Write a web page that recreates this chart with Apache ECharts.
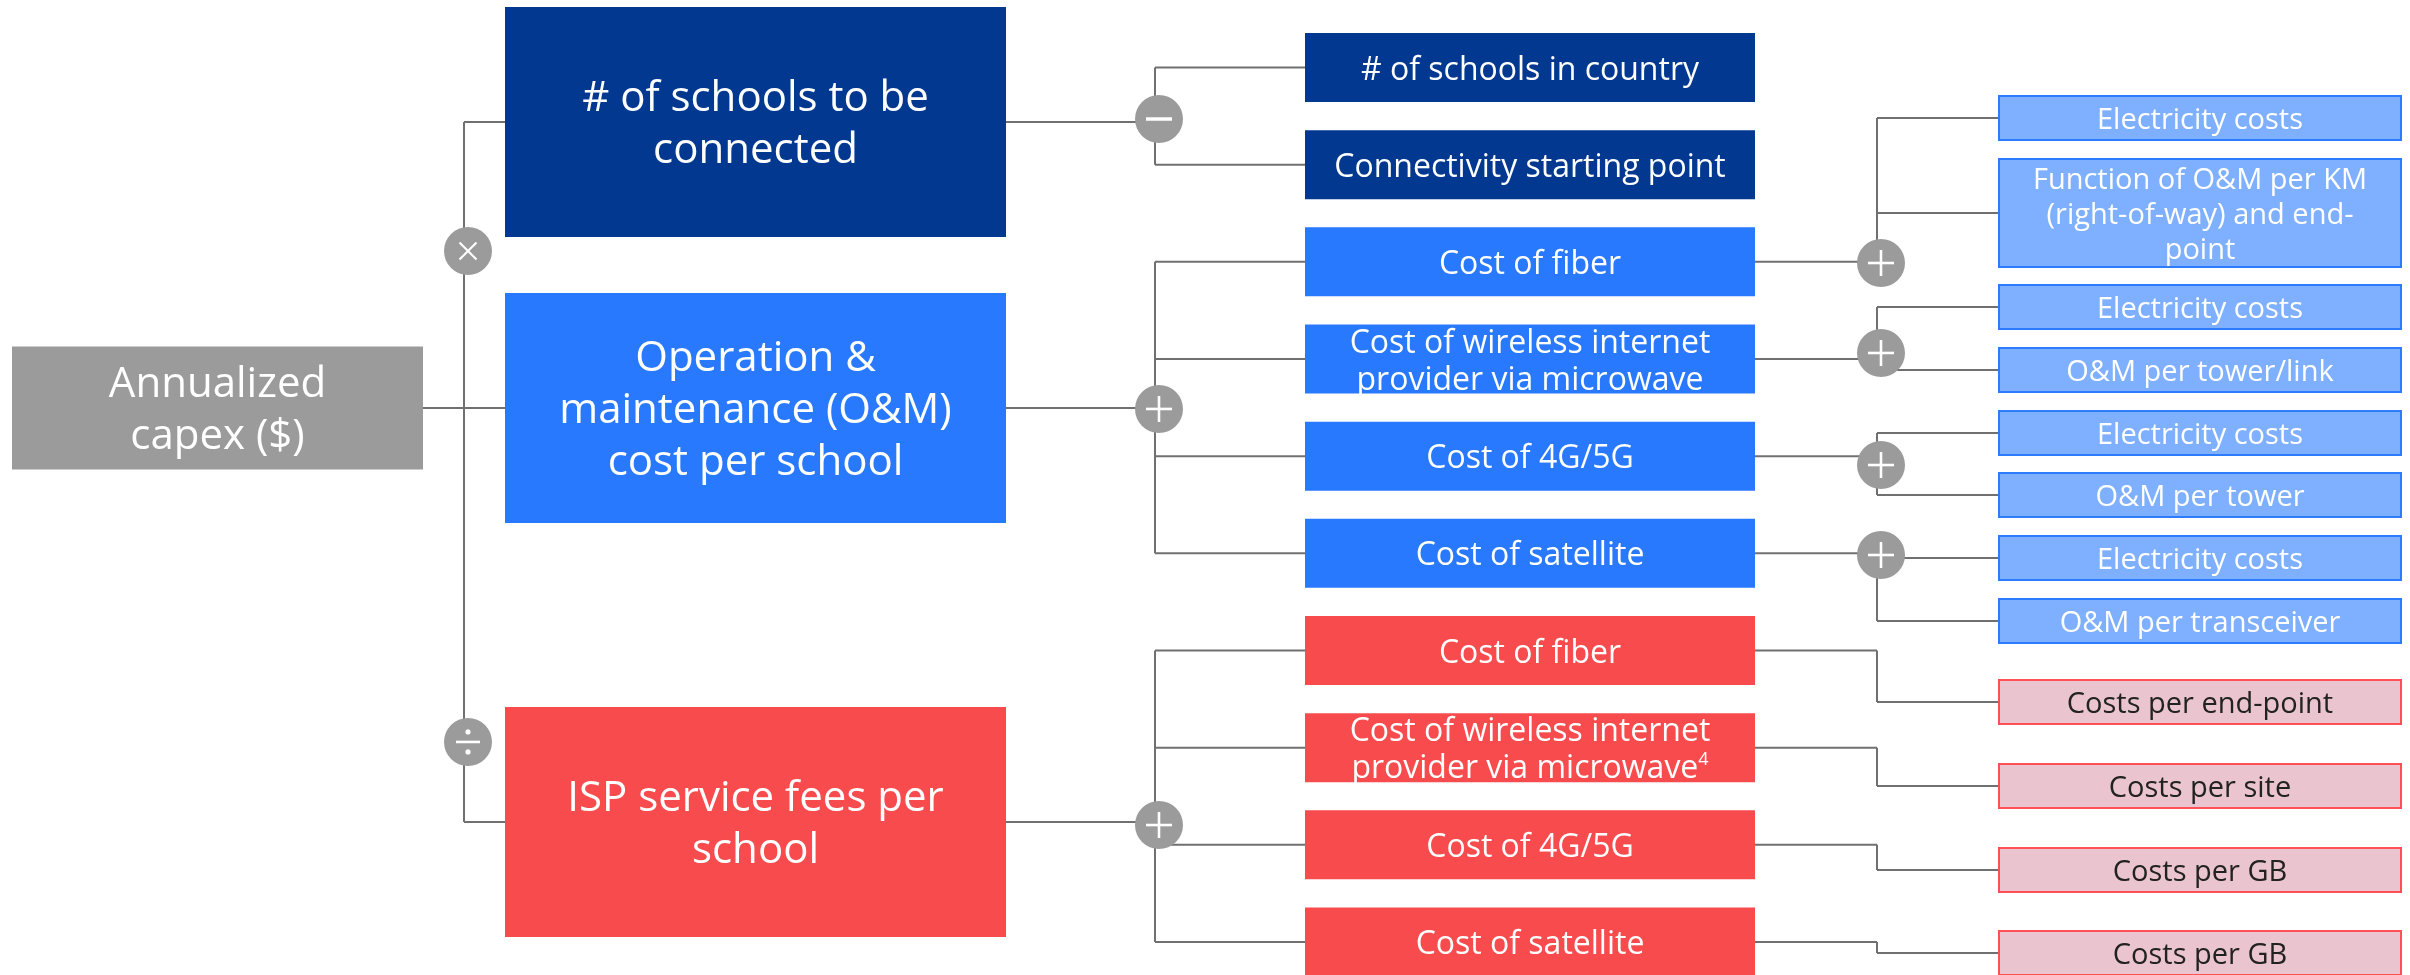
<!DOCTYPE html>
<html>
<head>
<meta charset="utf-8">
<script src="https://cdn.jsdelivr.net/npm/echarts/dist/echarts.min.js"></script>
<style>
  html, body { margin: 0; padding: 0; background: #ffffff; }
  #chart { width: 2410px; height: 975px; }
</style>
</head>
<body>
<div id="chart"></div>
<script>
// ---------------- DATA ----------------
const rootLabel = 'Annualized\ncapex ($)';
const rootRow = 3.504;

const level1Labels = [
  '# of schools to be\nconnected',
  'Operation &\nmaintenance (O&M)\ncost per school',
  'ISP service fees per\nschool'
];
const level1Rows = [0.561, 3.504, 7.764];

const level2Labels = [
  '# of schools in country',
  'Connectivity starting point',
  'Cost of fiber',
  'Cost of wireless internet\nprovider via microwave',
  'Cost of 4G/5G',
  'Cost of satellite',
  'Cost of fiber',
  'Cost of wireless internet\nprovider via microwave{sup|4}',
  'Cost of 4G/5G',
  'Cost of satellite'
];
const level2Parent = [0, 0, 1, 1, 1, 1, 2, 2, 2, 2];
const level2Rows = [0, 1, 2, 3, 4, 5, 6, 7, 8, 9];

const level3Labels = [
  'Electricity costs',
  'Function of O&M per KM\n(right-of-way) and end-\npoint',
  'Electricity costs',
  'O&M per tower/link',
  'Electricity costs',
  'O&M per tower',
  'Electricity costs',
  'O&M per transceiver',
  'Costs per end-point',
  'Costs per site',
  'Costs per GB',
  'Costs per GB'
];
const level3Parent = [2, 2, 3, 3, 4, 4, 5, 5, 6, 7, 8, 9];
const level3Rows = [0.520, 1.497, 2.465, 3.113, 3.761, 4.399, 5.048, 5.696, 6.530, 7.395, 8.259, 9.113];

// Operators: symbol, row, and which connector bus they sit on (0: root bus, 1: level-1 bus, 2: level-2 bus)
const opSymbols = ['×', '÷', '−', '+', '+', '+', '+', '+', '+'];
const opRows    = [1.888, 6.941, 0.530, 3.514, 7.796, 2.012, 2.938, 4.091, 5.017];
const opBus     = [0, 0, 1, 1, 1, 2, 2, 2, 2];

// ---------------- LAYOUT / STYLE ----------------
const ROW_MIN = -0.6947, ROW_MAX = 9.3393;
const COLS = [{ l: 12, r: 423 }, { l: 505, r: 1006 }, { l: 1305, r: 1755 }, { l: 1999, r: 2401 }];
const BUS_X = [464, 1155, 1877];
const BOX_H = [123, 230, 69, 44];
const FONT = [42, 42, 32, 29];
const LINE_H = [52, 52, 37, 35];
const TEXT_DY = 3;
const BRANCH_FILL = ['#02388F', '#2979FF', '#F84B4E'];
const L3_FILL = { 1: '#7FB0FF', 2: '#EAC4CE' };
const L3_STROKE = { 1: '#2D7CFF', 2: '#FF4F57' };
const LINE_COLOR = '#707070';
const OP_COLOR = '#9B9B9B';
const FONT_FAMILY = '"Open Sans", "Noto Sans", sans-serif';

// Build node list
const nodes = [];
nodes.push({ level: 0, label: rootLabel, row: rootRow, branch: -1 });
const l1Ids = level1Labels.map((lab, i) => { nodes.push({ level: 1, label: lab, row: level1Rows[i], branch: i }); return nodes.length - 1; });
const l2Ids = level2Labels.map((lab, i) => { nodes.push({ level: 2, label: lab, row: level2Rows[i], branch: level2Parent[i] }); return nodes.length - 1; });
const l3Ids = level3Labels.map((lab, i) => { nodes.push({ level: 3, label: lab, row: level3Rows[i], branch: level2Parent[level3Parent[i]] }); return nodes.length - 1; });

// Connector groups
const groups = [];
groups.push({ parent: 0, children: l1Ids, bus: 0 });
l1Ids.forEach((pid, i) => {
  groups.push({ parent: pid, children: l2Ids.filter((_, j) => level2Parent[j] === i), bus: 1 });
});
l2Ids.forEach((pid, i) => {
  const ch = l3Ids.filter((_, j) => level3Parent[j] === i);
  if (ch.length) groups.push({ parent: pid, children: ch, bus: 2 });
});

function boxHeight(n) {
  if (n.level === 3) return BOX_H[3] + (n.label.split('\n').length - 1) * 32;
  return BOX_H[n.level];
}

function renderBox(params, api) {
  const n = nodes[params.dataIndex];
  const col = COLS[n.level];
  const a = api.coord([col.l, n.row]);
  const b = api.coord([col.r, n.row]);
  const h = boxHeight(n);
  let fill, stroke = null, lw = 0, tc = '#ffffff';
  if (n.level === 0) fill = '#9B9B9B';
  else if (n.level < 3) fill = BRANCH_FILL[n.branch];
  else {
    fill = L3_FILL[n.branch]; stroke = L3_STROKE[n.branch]; lw = 2;
    if (n.branch === 2) tc = '#222222';
  }
  return {
    type: 'group',
    children: [
      { type: 'rect', shape: { x: a[0], y: a[1] - h / 2, width: b[0] - a[0], height: h },
        style: { fill: fill, stroke: stroke, lineWidth: lw } },
      { type: 'text',
        style: {
          text: n.label, x: (a[0] + b[0]) / 2, y: a[1] + TEXT_DY,
          align: 'center', verticalAlign: 'middle',
          fontFamily: FONT_FAMILY, fontSize: FONT[n.level], lineHeight: LINE_H[n.level],
          fill: tc,
          rich: { sup: { fontSize: 18, lineHeight: 22, verticalAlign: 'top', fill: tc, fontFamily: FONT_FAMILY } }
        } }
    ]
  };
}

function renderConnector(params, api) {
  const g = groups[params.dataIndex];
  const p = nodes[g.parent];
  const bx = BUS_X[g.bus];
  const pStart = api.coord([COLS[p.level].r, p.row]);
  const pBus = api.coord([bx, p.row]);
  const style = { stroke: LINE_COLOR, lineWidth: 2, fill: null };
  const children = [];
  children.push({ type: 'line', shape: { x1: pStart[0], y1: pStart[1], x2: pBus[0], y2: pBus[1] }, style: style });
  let minY = pBus[1], maxY = pBus[1];
  g.children.forEach(cid => {
    const c = nodes[cid];
    const s = api.coord([bx, c.row]);
    const e = api.coord([COLS[c.level].l, c.row]);
    minY = Math.min(minY, s[1]); maxY = Math.max(maxY, s[1]);
    children.push({ type: 'line', shape: { x1: s[0], y1: s[1], x2: e[0], y2: e[1] }, style: style });
  });
  children.push({ type: 'line', shape: { x1: pBus[0], y1: minY, x2: pBus[0], y2: maxY }, style: style });
  return { type: 'group', children: children };
}

function renderOp(params, api) {
  const i = params.dataIndex;
  const c = api.coord([BUS_X[opBus[i]] + 4, opRows[i]]);
  const x = c[0], y = c[1];
  const ch = [{ type: 'circle', shape: { cx: x, cy: y, r: 24 }, style: { fill: OP_COLOR } }];
  const st = (w) => ({ stroke: '#ffffff', lineWidth: w, fill: null });
  const sym = opSymbols[i];
  if (sym === '+') {
    ch.push({ type: 'line', shape: { x1: x - 13, y1: y, x2: x + 13, y2: y }, style: st(2.6) });
    ch.push({ type: 'line', shape: { x1: x, y1: y - 13, x2: x, y2: y + 13 }, style: st(2.6) });
  } else if (sym === '−') {
    ch.push({ type: 'line', shape: { x1: x - 13, y1: y, x2: x + 13, y2: y }, style: st(3.5) });
  } else if (sym === '×') {
    ch.push({ type: 'line', shape: { x1: x - 8.5, y1: y - 8.5, x2: x + 8.5, y2: y + 8.5 }, style: st(2.2) });
    ch.push({ type: 'line', shape: { x1: x - 8.5, y1: y + 8.5, x2: x + 8.5, y2: y - 8.5 }, style: st(2.2) });
  } else if (sym === '÷') {
    ch.push({ type: 'line', shape: { x1: x - 12, y1: y, x2: x + 12, y2: y }, style: st(2.6) });
    ch.push({ type: 'circle', shape: { cx: x, cy: y - 10, r: 2.6 }, style: { fill: '#ffffff' } });
    ch.push({ type: 'circle', shape: { cx: x, cy: y + 10, r: 2.6 }, style: { fill: '#ffffff' } });
  }
  return { type: 'group', children: ch };
}

const chart = echarts.init(document.getElementById('chart'), null, { renderer: 'canvas' });
chart.setOption({
  animation: false,
  backgroundColor: '#ffffff',
  grid: { left: 0, right: 0, top: 0, bottom: 0 },
  xAxis: { type: 'value', min: 0, max: 2410, show: false },
  yAxis: { type: 'value', min: ROW_MIN, max: ROW_MAX, inverse: true, show: false },
  series: [
    { type: 'custom', name: 'connectors', renderItem: renderConnector, z: 1, clip: false,
      data: groups.map(g => [BUS_X[g.bus], nodes[g.parent].row]) },
    { type: 'custom', name: 'boxes', renderItem: renderBox, z: 2, clip: false,
      data: nodes.map(n => [(COLS[n.level].l + COLS[n.level].r) / 2, n.row]) },
    { type: 'custom', name: 'operators', renderItem: renderOp, z: 3, clip: false,
      data: opRows.map((r, i) => [BUS_X[opBus[i]], r]) }
  ]
});
</script>
</body>
</html>
